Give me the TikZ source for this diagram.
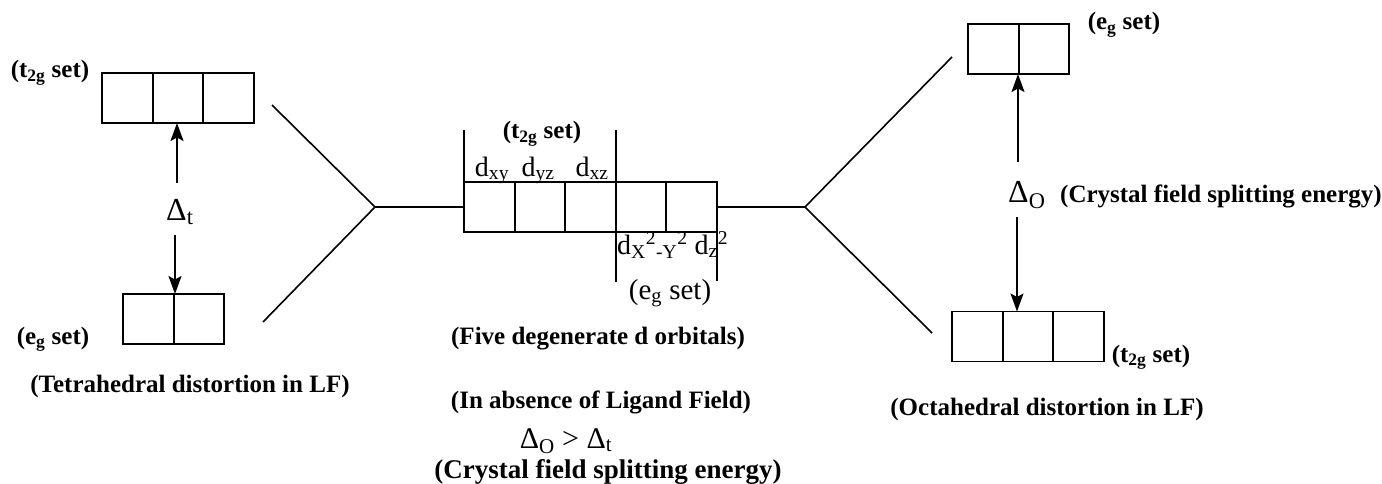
\documentclass[tikz,border=0pt]{standalone}
\usepackage{fontspec}
\setmainfont{Liberation Serif}
\usetikzlibrary{arrows.meta}
\tikzset{
 cell/.style={draw, line width=1.9pt, minimum width=50.6pt, minimum height=50pt, inner sep=0pt, outer sep=0pt},
 blbl/.style={font=\fontsize{25}{30}\selectfont\bfseries, inner sep=0pt, anchor=base},
 rlbl/.style={font=\fontsize{28}{32}\selectfont, inner sep=0pt, anchor=base},
 dlbl/.style={font=\fontsize{32}{36}\selectfont, inner sep=0pt, anchor=base west},
 ln/.style={line width=1.6pt},
 arr/.style={line width=1.9pt, -{Stealth[length=18pt,width=13pt,inset=3.5pt]}},
}
\begin{document}
\begin{tikzpicture}[x=1pt,y=-1pt]
\useasboundingbox (0,0) rectangle (1382,484);
% left (tetrahedral)
\node[cell] (tA1) at (127.3,98) {};
\node[cell] (tA2) at (178,98) {};
\node[cell] (tA3) at (228.7,98) {};
\node[cell] (tB1) at (148.3,319) {};
\node[cell] (tB2) at (198.9,319) {};
% centre
\node[cell] (c1) at (489.3,207) {};
\node[cell] (c2) at (539.9,207) {};
\node[cell] (c3) at (590.5,207) {};
\node[cell] (c4) at (641.1,207) {};
\node[cell] (c5) at (691.7,207) {};
% right (octahedral)
\node[cell] (oA1) at (993.3,49) {};
\node[cell] (oA2) at (1044,49) {};
\node[cell] (oB1) at (977.3,336.5) {};
\node[cell] (oB2) at (1028,336.5) {};
\node[cell] (oB3) at (1078.7,336.5) {};
% splitting lines
\coordinate (vl) at (375,207);
\coordinate (lu) at (272,105);
\coordinate (ll) at (263,322);
\draw[ln] (lu) -- (vl) -- (ll);
\draw[ln] (vl) -- (c1.west);
\coordinate (vr) at (805,207);
\coordinate (ru) at (952,57);
\coordinate (rl) at (932,333);
\draw[ln] (c5.east) -- (vr);
\draw[ln] (ru) -- (vr) -- (rl);
% brackets
\draw[ln] (c1.north west) -- ++(0,-52);
\draw[ln] (c4.north west) -- ++(0,-52);
\draw[ln] (c4.south west) -- ++(0,50);
\draw[ln] (c5.south east) -- ++(0,49);
% centre labels
\node[blbl] (t2gc) at (542,139) {(t\textsubscript{2g} set)};
\node[rlbl] (dxy) at (492,176) {d\textsubscript{xy}};
\node[rlbl] (dyz) at (538,176) {d\textsubscript{yz}};
\node[rlbl] (dxz) at (592,176) {d\textsubscript{xz}};
\node[rlbl, anchor=base west] (deg) at (617,254) {d\textsubscript{X}\textsuperscript{2}\textsubscript{-Y}\textsuperscript{2} d\textsubscript{z}\textsuperscript{2}};
\node[rlbl, font=\fontsize{29}{33}\selectfont] (egc) at (670,299) {(e\textsubscript{g} set)};
\node[blbl] (five) at (598,344) {(Five degenerate d orbitals)};
\node[blbl] (abs) at (601,408) {(In absence of Ligand Field)};
\node[dlbl, anchor=base, font=\fontsize{30}{34}\selectfont] (cmp) at (566,448) {Δ\textsubscript{O} > Δ\textsubscript{t}};
\node[blbl, font=\fontsize{27}{32}\selectfont\bfseries] (cfs) at (608,478) {(Crystal field splitting energy)};
% left labels
\node[blbl] (t2gl) at (50,78) {(t\textsubscript{2g} set)};
\node[blbl] (egl) at (53,344) {(e\textsubscript{g} set)};
\node[blbl] (tet) at (190,392) {(Tetrahedral distortion in LF)};
\node[dlbl] (dt) at (166,220) {Δ\textsubscript{t}};
% right labels
\node[blbl] (egr) at (1124,30) {(e\textsubscript{g} set)};
\node[dlbl] (dO) at (1008,202) {Δ\textsubscript{O}};
\node[blbl, anchor=base west] (cfr) at (1060,202) {(Crystal field splitting energy)};
\node[blbl] (t2gr) at (1151,362) {(t\textsubscript{2g} set)};
\node[blbl] (oct) at (1047,415) {(Octahedral distortion in LF)};
% arrows
\coordinate (a1) at (177,183);
\draw[arr] (a1) -- (a1 |- tA2.south);
\coordinate (a2) at (175,235);
\draw[arr] (a2) -- (a2 |- tB1.north);
\coordinate (a3) at (1018,162);
\draw[arr] (a3) -- (a3 |- oA1.south);
\coordinate (a4) at (1017,217);
\draw[arr] (a4) -- (a4 |- oB1.north);
\end{tikzpicture}
\end{document}
